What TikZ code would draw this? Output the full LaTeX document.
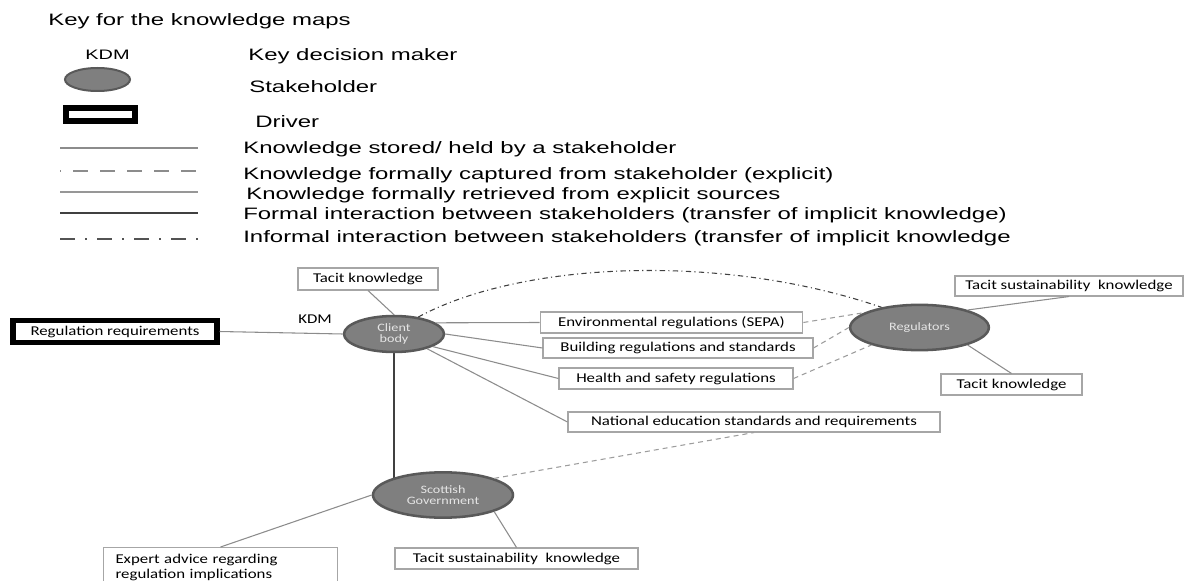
\documentclass[tikz,border=0pt]{standalone}
\usepackage{fontspec}
\setmainfont{Liberation Sans}
\newfontfamily\keyfam[FakeStretch=1.45]{Liberation Sans}
\newfontfamily\boxfam[FakeStretch=1.25]{Carlito}
\usetikzlibrary{shapes.geometric,backgrounds}

\definecolor{stakegray}{HTML}{7F7F7F}
\definecolor{ringgray}{HTML}{595959}
\definecolor{boxgray}{HTML}{A6A6A6}
\definecolor{linegray}{HTML}{8C8C8C}
\definecolor{darkline}{HTML}{404040}

\newcommand{\keytxt}{\keyfam\fontsize{12.4pt}{14pt}\selectfont}
\newcommand{\boxtxt}{\boxfam\fontsize{10.1pt}{11.5pt}\selectfont}
\newcommand{\stktxt}{\boxfam\fontsize{8.5pt}{8.5pt}\selectfont}

\tikzset{
  kbox/.style={draw=boxgray, line width=0.8pt, fill=white, font=\boxtxt, inner sep=0pt},
  driver/.style={draw=black, line width=4.2pt, fill=white, font=\boxtxt, inner sep=0pt},
  stake/.style={ellipse, draw=ringgray, line width=1.9pt, fill=stakegray, text=white!90!black, font=\stktxt, align=center, inner sep=0pt},
  keylabel/.style={anchor=west, inner sep=0pt, font=\keytxt},
  % connectors in the maps
  held/.style={linegray, line width=0.8pt},
  captured/.style={linegray!85, line width=0.8pt, dash pattern=on 3.75pt off 3pt},
  formal/.style={darkline, line width=1.2pt},
  informal/.style={darkline, line width=0.8pt, dash pattern=on 4pt off 2.5pt on 0.8pt off 2.5pt},
  % swatches in the key
  keyheld/.style={linegray, line width=1.5pt},
  keycapt/.style={linegray, line width=1.5pt, dash pattern=on 11.25pt off 9pt, dash phase=10.5pt},
  keyretr/.style={linegray!90, line width=1.5pt},
  keyformal/.style={darkline, line width=1.6pt},
  keyinformal/.style={darkline!90, line width=1.8pt, dash pattern=on 11.25pt off 7.5pt on 1.5pt off 7.5pt},
}

\begin{document}
\begin{tikzpicture}[x=0.75pt, y=-0.75pt]
    \useasboundingbox (0,0) rectangle (1186,581);

    % key
    \node[keylabel] (title) at (48,21) {Key for the knowledge maps};
    \node[font=\keyfam\fontsize{10.3pt}{12pt}\selectfont, inner sep=0pt] (kdmkey) at (107.5,55) {KDM};
    \node[stake, line width=1.5pt, minimum width=48.75pt, minimum height=17.25pt] (stakekey) at (97.5,79.5) {};
    \node[driver, line width=4.5pt, minimum width=51.75pt, minimum height=9.75pt] (driverkey) at (100.5,114.5) {};

    \node[keylabel] (kdmtext) at (248,56) {Key decision maker};
    \node[keylabel] (staketext) at (249,87) {Stakeholder};
    \node[keylabel] (drivertext) at (255,122) {Driver};
    \node[keylabel] (heldtext) at (243,149) {Knowledge stored/ held by a stakeholder};
    \node[keylabel] (capttext) at (243,175) {Knowledge formally captured from stakeholder (explicit)};
    \node[keylabel] (retrtext) at (246,195) {Knowledge formally retrieved from explicit sources};
    \node[keylabel] (formaltext) at (243,215) {Formal interaction between stakeholders (transfer of implicit knowledge)};
    \node[keylabel] (informaltext) at (243,238) {Informal interaction between stakeholders (transfer of implicit knowledge};

    \foreach \sty/\yy [count=\i] in {keyheld/148, keycapt/171, keyretr/192, keyformal/213, keyinformal/239} {
        \coordinate (ks\i) at (60,\yy);
        \coordinate (ke\i) at (198,\yy);
        \draw[\sty] (ks\i) -- (ke\i);
    }

    % stakeholders
    \node[stake, minimum width=75pt, minimum height=27pt] (client) at (394,334) {Client\\body};
    \node[stake, minimum width=104pt, minimum height=34pt] (regulators) at (919.5,327.5) {Regulators};
    \node[stake, minimum width=105pt, minimum height=34pt] (scotgov) at (443,495) {Scottish\\Government};

    % knowledge and drivers
    \node[kbox, minimum width=105pt, minimum height=16.5pt] (tacitclient) at (368,279) {Tacit knowledge};
    \node[driver, minimum width=152.6pt, minimum height=16.5pt] (regreq) at (115,331.5) {Regulation requirements};
    \node[font=\boxtxt, inner sep=0pt] (kdm) at (315,319) {KDM};
    \node[kbox, minimum width=197pt, minimum height=15.75pt] (envreg) at (671.5,322.5) {Environmental regulations (SEPA)};
    \node[kbox, minimum width=202.5pt, minimum height=15pt] (buildreg) at (678,348) {Building regulations and standards};
    \node[kbox, minimum width=175.5pt, minimum height=15.75pt] (healthreg) at (676,378.5) {Health and safety regulations};
    \node[kbox, minimum width=279pt, minimum height=15pt] (natedu) at (754,422) {National education standards and requirements};
    \node[kbox, minimum width=171pt, minimum height=15pt] (tacitsusreg) at (1069,286) {Tacit sustainability\ \ knowledge};
    \node[kbox, minimum width=105.75pt, minimum height=15.75pt] (tacitreg) at (1011.5,384.5) {Tacit knowledge};
    \node[kbox, anchor=north west, minimum height=30pt, text width=157.5pt, inner xsep=9pt, align=left] (expert) at (103,547) {Expert advice regarding\\regulation implications};
    \node[kbox, minimum width=182.25pt, minimum height=15.75pt] (tacitsusgov) at (516.5,558.5) {Tacit sustainability\ \ knowledge};

    % client body
    \draw[held] (tacitclient.south) -- (client.north);
    \draw[held] (regreq.east) -- (client.west);
    \draw[held] (client.15) -- (envreg.west);
    \draw[held] (client.east) -- (buildreg.west);
    \draw[held] (client.-18) -- (healthreg.west);
    \draw[held] (client.-24) -- (natedu.west);
    \draw[informal] (client.35) .. controls (520,262) and (720,252) .. (regulators.152);
    \begin{scope}[on background layer]
        \draw[formal] (client.south) -- (client.south |- scotgov.center);
    \end{scope}

    % regulators
    \draw[captured] (envreg.east) -- (regulators.165);
    \draw[captured] (buildreg.east) -- (regulators.west);
    \draw[captured] (healthreg.east) -- (regulators.200);
    \draw[held] (regulators.20) -- (tacitsusreg.south);
    \draw[held] (regulators.-20) -- (tacitreg.north);

    % scottish government
    \draw[held] (scotgov.west) -- (expert.north);
    \draw[held] (scotgov.-18) -- (tacitsusgov.north);
    \draw[captured] (scotgov.18) -- (natedu.south);
\end{tikzpicture}
\end{document}
